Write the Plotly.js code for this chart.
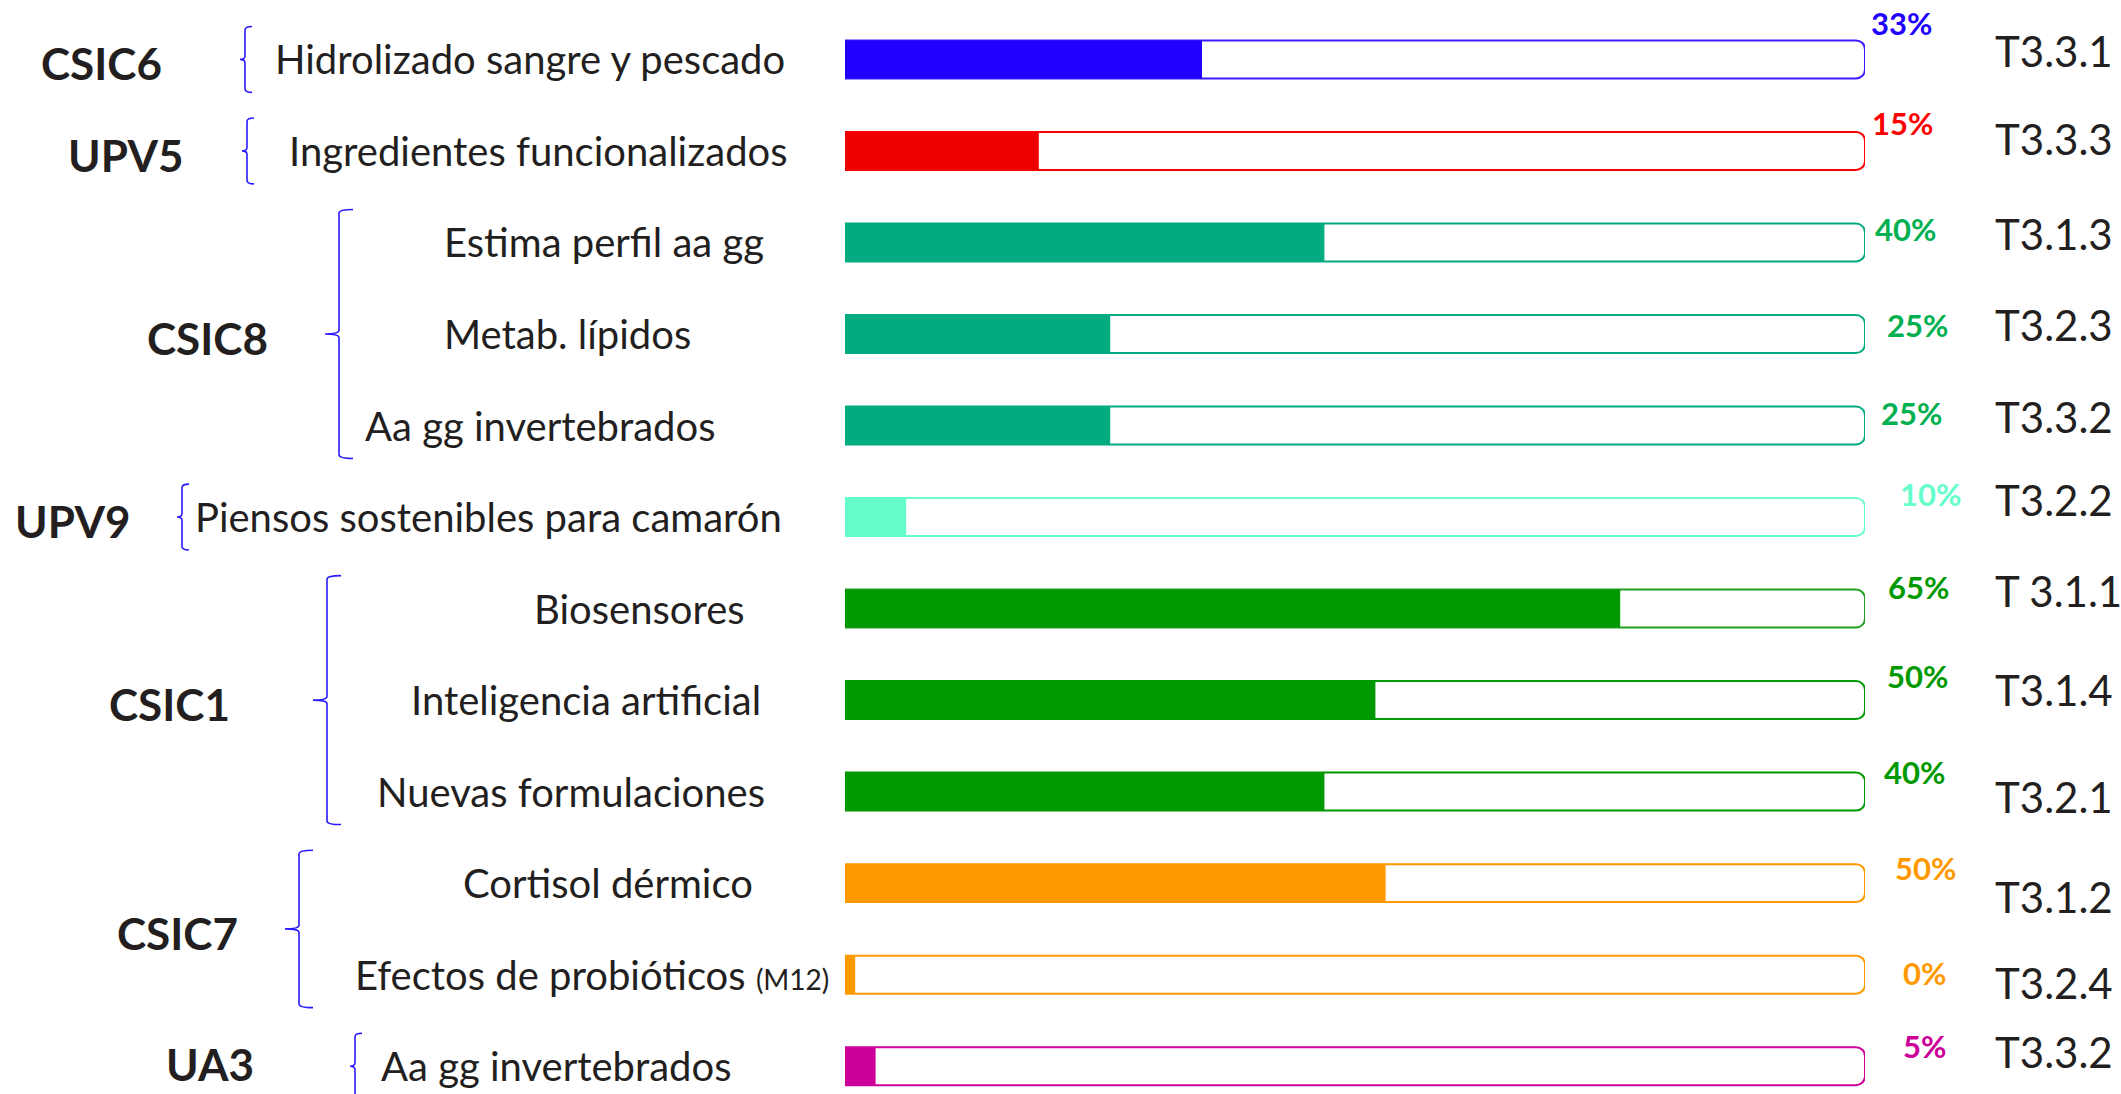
<!DOCTYPE html>
<html>
<head>
<meta charset="utf-8">
<script src="https://cdn.plot.ly/plotly-3.0.1.min.js"></script>
<style>html,body{margin:0;padding:0;background:#fff;}#chart{width:2121px;height:1094px;}</style>
</head>
<body>
<div id="chart"></div>
<script>
// ---- data ----
const tasks = ['Hidrolizado sangre y pescado', 'Ingredientes funcionalizados', 'Estima perfil aa gg', 'Metab. lípidos',
  'Aa gg invertebrados', 'Piensos sostenibles para camarón', 'Biosensores', 'Inteligencia artificial',
  'Nuevas formulaciones', 'Cortisol dérmico', 'Efectos de probióticos', 'Aa gg invertebrados'];
const taskNotes = ['', '', '', '', '', '', '', '', '', '', '(M12)', ''];
const taskCodes = ['T3.3.1', 'T3.3.3', 'T3.1.3', 'T3.2.3', 'T3.3.2', 'T3.2.2', 'T 3.1.1', 'T3.1.4', 'T3.2.1', 'T3.1.2', 'T3.2.4', 'T3.3.2'];
const pctText = ['33%', '15%', '40%', '25%', '25%', '10%', '65%', '50%', '40%', '50%', '0%', '5%'];
// filled share of each bar as drawn in the picture (percent of the full bar)
const barFill = [35, 19, 47, 26, 26, 6, 76, 52, 47, 53, 1, 3];
const groupNames = ['CSIC6', 'UPV5', 'CSIC8', 'UPV9', 'CSIC1', 'CSIC7', 'UA3'];
const groupFirst = [0, 1, 2, 5, 6, 9, 11];
const groupLast = [0, 1, 4, 5, 8, 10, 11];

// ---- styles ----
const fillColors = ['#2200ff', '#ee0000', '#03ab80', '#03ab80', '#03ab80', '#66ffcc', '#009900', '#009900', '#009900', '#ff9900', '#ff9900', '#cc0099'];
const lineColors = ['#3a1aff', '#ff0000', '#03ab80', '#03ab80', '#03ab80', '#66ffcc', '#22a022', '#009900', '#009900', '#ff9900', '#ff9900', '#cc0099'];
const pctColors = ['#2200ff', '#ff0000', '#00b050', '#00b050', '#00b050', '#66ffcc', '#009900', '#009900', '#009900', '#ff9900', '#ff9900', '#cc0099'];

// ---- layout positions (pixels of the 2121 x 1094 page) ----
const W = 2121, H = 1094;
const px = v => v / W;
const labelCx = [530, 538, 604, 567, 540, 488, 639, 586, 571, 608, 592, 556];
const pctCx = [1901, 1902, 1905, 1917, 1911, 1930, 1918, 1917, 1914, 1925, 1924, 1924];
const pctLift = [36, 28, 13, 9, 13, 23, 22, 24, 20, 15, 2, 20];
const codeLift = [8, 12, 8, 9, 9, 17, 18, 10, -5, -14, -8, 14];
const groupCx = [101, 125, 207, 72, 169, 177, 210];
const bracketX = [245, 247, 339, 182, 327, 299, 355];

const rowIdx = tasks.map((_, i) => i);
const FONT = 'Lato, "Open Sans", sans-serif';
const TXT = '#231f20';

const outline = {
  type: 'bar', orientation: 'h', y: rowIdx, x: tasks.map(() => 100), width: 0.415,
  marker: { color: '#ffffff', line: { color: lineColors, width: 2 }, cornerradius: 9 },
  hoverinfo: 'skip', showlegend: false
};
const filled = {
  type: 'bar', orientation: 'h', y: rowIdx, x: barFill, width: 0.415,
  marker: { color: fillColors, line: { width: 0 }, cornerradius: 9 },
  hoverinfo: 'skip', showlegend: false
};

const annotations = [];
tasks.forEach((t, i) => {
  const txt = taskNotes[i] ? t + ' <span style="font-size:28px">' + taskNotes[i] + '</span>' : t;
  annotations.push({ xref: 'paper', yref: 'y', x: px(labelCx[i]), y: i, text: txt, showarrow: false,
    xanchor: 'center', yanchor: 'middle', font: { family: FONT, size: 40, color: TXT } });
  annotations.push({ xref: 'paper', yref: 'y', x: px(pctCx[i]), y: i, yshift: pctLift[i], text: '<b>' + pctText[i] + '</b>',
    showarrow: false, xanchor: 'center', yanchor: 'middle', font: { family: FONT, size: 31, color: pctColors[i] } });
  annotations.push({ xref: 'paper', yref: 'y', x: px(1993), y: i, yshift: codeLift[i], text: taskCodes[i], showarrow: false,
    xanchor: 'left', yanchor: 'middle', font: { family: FONT, size: 42, color: TXT } });
});

const shapes = [];
groupNames.forEach((g, k) => {
  const a = groupFirst[k], b = groupLast[k];
  const mid = (a + b) / 2;
  annotations.push({ xref: 'paper', yref: 'y', x: px(groupCx[k]), y: mid, yshift: k === 6 ? 2 : -4, text: '<b>' + g + '</b>',
    showarrow: false, xanchor: 'center', yanchor: 'middle', font: { family: FONT, size: 44, color: TXT } });
  const x0 = px(bracketX[k]);
  const arm = px(b > a ? 14 : 7);
  const tick = px(b > a ? 14 : 5);
  const yt = a - 0.36, yb = b + 0.36;
  const c = 0.04;
  const path = `M ${x0 + arm},${yt} Q ${x0},${yt} ${x0},${yt + c} L ${x0},${mid - c} Q ${x0},${mid} ${x0 - tick},${mid}` +
    ` Q ${x0},${mid} ${x0},${mid + c} L ${x0},${yb - c} Q ${x0},${yb} ${x0 + arm},${yb}`;
  shapes.push({ type: 'path', xref: 'paper', yref: 'y', path: path, line: { color: '#2a1aff', width: 1.6 } });
});

const layout = {
  width: W, height: H, margin: { l: 0, r: 0, t: 0, b: 0, pad: 0 },
  paper_bgcolor: '#ffffff', plot_bgcolor: 'rgba(0,0,0,0)',
  barmode: 'overlay', showlegend: false,
  xaxis: { domain: [845 / W, 1865 / W], range: [0, 100], visible: false, fixedrange: true },
  yaxis: { domain: [0, 1], range: [11.304, -0.649], visible: false, fixedrange: true },
  annotations: annotations, shapes: shapes
};
Plotly.newPlot('chart', [outline, filled], layout, { displayModeBar: false, staticPlot: true });
</script>
</body>
</html>
